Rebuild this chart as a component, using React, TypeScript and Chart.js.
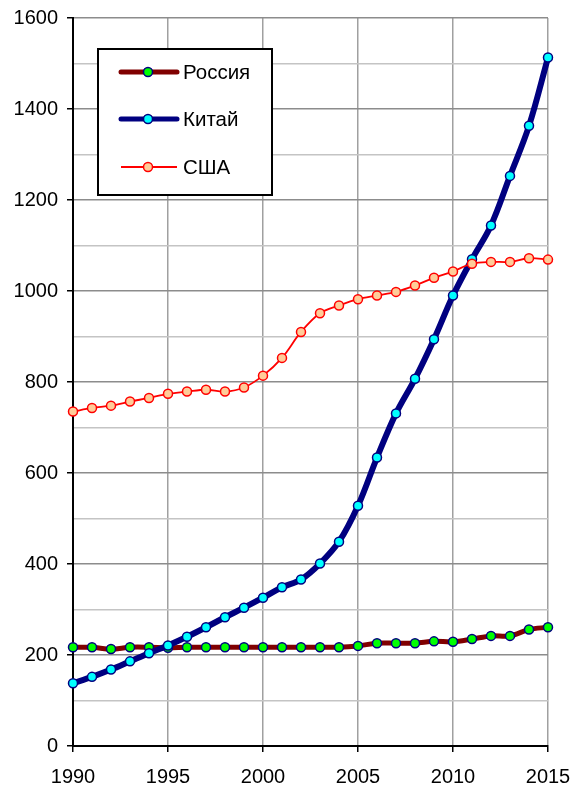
import React, { useEffect, useRef } from "react";
import { Chart, registerables } from "chart.js";

Chart.register(...registerables);

const years = [1990, 1991, 1992, 1993, 1994, 1995, 1996, 1997, 1998, 1999, 2000, 2001, 2002, 2003, 2004, 2005, 2006, 2007, 2008, 2009, 2010, 2011, 2012, 2013, 2014, 2015];
const russia = [217, 217, 213, 217, 217, 216, 217, 217, 217, 217, 217, 217, 217, 217, 217, 220, 226, 226, 226, 230, 229, 235, 242, 242, 256, 261];
const china = [138, 152, 168, 186, 204, 221, 240, 261, 283, 304, 326, 349, 366, 401, 449, 528, 634, 731, 807, 894, 990, 1070, 1144, 1253, 1363, 1513];
const usa = [735, 743, 748, 757, 765, 774, 779, 783, 779, 788, 814, 853, 910, 951, 968, 982, 990, 998, 1012, 1029, 1043, 1060, 1064, 1064, 1072, 1069];
const seriesNames = ["Россия", "Китай", "США"];
const xTicks = [1990, 1995, 2000, 2005, 2010, 2015];

const FONT = "'Liberation Sans', Arial, sans-serif";

const legendPlugin = {
  id: "boxLegend",
  afterDatasetsDraw(chart: any) {
    const ctx = chart.ctx as CanvasRenderingContext2D;
    const x0 = 98, y0 = 49, w = 174, h = 146;
    ctx.save();
    ctx.fillStyle = "#ffffff";
    ctx.fillRect(x0, y0, w, h);
    ctx.strokeStyle = "#000000";
    ctx.lineWidth = 2;
    ctx.strokeRect(x0, y0, w, h);
    const rows = [72, 119, 167];
    chart.data.datasets.forEach((ds: any, i: number) => {
      const y = rows[i];
      ctx.beginPath();
      ctx.strokeStyle = ds.borderColor;
      ctx.lineWidth = ds.legendLineWidth;
      ctx.lineCap = ds.legendLineWidth > 3 ? "round" : "butt";
      ctx.moveTo(121, y);
      ctx.lineTo(177, y);
      ctx.stroke();
      ctx.beginPath();
      ctx.arc(148, y, 4.5, 0, Math.PI * 2);
      ctx.fillStyle = ds.pointBackgroundColor;
      ctx.fill();
      ctx.lineWidth = 1.5;
      ctx.strokeStyle = ds.pointBorderColor;
      ctx.stroke();
      ctx.fillStyle = "#000000";
      ctx.font = `20.5px ${FONT}`;
      ctx.textBaseline = "middle";
      ctx.textAlign = "left";
      ctx.fillText(ds.label, 183, y + 1);
    });
    ctx.restore();
  },
};

export default function App() {
  const ref = useRef<HTMLCanvasElement | null>(null);
  useEffect(() => {
    if (!ref.current) return;
    const mk = (vals: number[]) => vals.map((v, i) => ({ x: years[i], y: v }));
    const chart = new Chart(ref.current, {
      type: "line",
      data: {
        datasets: [
          {
            label: seriesNames[0],
            data: mk(russia),
            borderColor: "#800000",
            borderWidth: 5,
            pointBackgroundColor: "#00ff00",
            pointBorderColor: "#000080",
            pointBorderWidth: 1.5,
            pointRadius: 4.5,
            tension: 0.35,
            order: 2,
            clip: false,
            legendLineWidth: 5,
          } as any,
          {
            label: seriesNames[1],
            data: mk(china),
            borderColor: "#000080",
            borderWidth: 6,
            pointBackgroundColor: "#00ffff",
            pointBorderColor: "#000080",
            pointBorderWidth: 1.5,
            pointRadius: 4.5,
            tension: 0.35,
            order: 1,
            clip: false,
            legendLineWidth: 5,
          } as any,
          {
            label: seriesNames[2],
            data: mk(usa),
            borderColor: "#ff0000",
            borderWidth: 1.8,
            pointBackgroundColor: "#ffcc99",
            pointBorderColor: "#ff0000",
            pointBorderWidth: 1.5,
            pointRadius: 4.5,
            tension: 0.35,
            order: 0,
            clip: false,
            legendLineWidth: 2,
          } as any,
        ],
      },
      options: {
        responsive: false,
        animation: false,
        devicePixelRatio: 1,
        layout: { padding: { top: 18, right: 26, left: 0, bottom: 0 } },
        plugins: { legend: { display: false }, tooltip: { enabled: false } },
        scales: {
          x: {
            type: "linear",
            min: 1990,
            max: 2015,
            afterFit: (s: any) => { s.height = 44; s.paddingLeft = 0; s.paddingRight = 0; },
            afterBuildTicks: (s: any) => { s.ticks = xTicks.map((v) => ({ value: v })); },
            ticks: {
              callback: (v: any) => String(v),
              color: "#000",
              font: { family: FONT, size: 20 },
              padding: 13,
              maxRotation: 0,
              autoSkip: false,
            },
            grid: { color: "#a0a0a0", lineWidth: 1.5, tickColor: "#000", tickLength: 6, tickWidth: 1.5 },
            border: { color: "#000", width: 2 },
          },
          y: {
            min: 0,
            max: 1600,
            afterFit: (s: any) => { s.width = 73; s.paddingTop = 0; s.paddingBottom = 0; },
            ticks: {
              stepSize: 100,
              callback: (v: any) => (Number(v) % 200 === 0 ? String(v) : ""),
              color: "#000",
              font: { family: FONT, size: 20 },
              padding: 9,
              autoSkip: false,
            },
            grid: {
              color: (c: any) => (c.tick && c.tick.value % 200 === 0 ? "#8c8c8c" : "#c4c4c4"),
              lineWidth: 1.5,
              tickColor: (c: any) => (c.tick && c.tick.value % 200 === 0 ? "#000" : "rgba(0,0,0,0)"),
              tickLength: 6,
              tickWidth: 1.5,
            },
            border: { color: "#000", width: 2 },
          },
        },
      },
      plugins: [legendPlugin],
    });
    return () => chart.destroy();
  }, []);
  return (
    <div style={{ position: "absolute", left: 0, top: 0, width: 574, height: 790, background: "#fff" }}>
      <canvas ref={ref} width={574} height={790} style={{ width: 574, height: 790, display: "block" }} />
    </div>
  );
}
